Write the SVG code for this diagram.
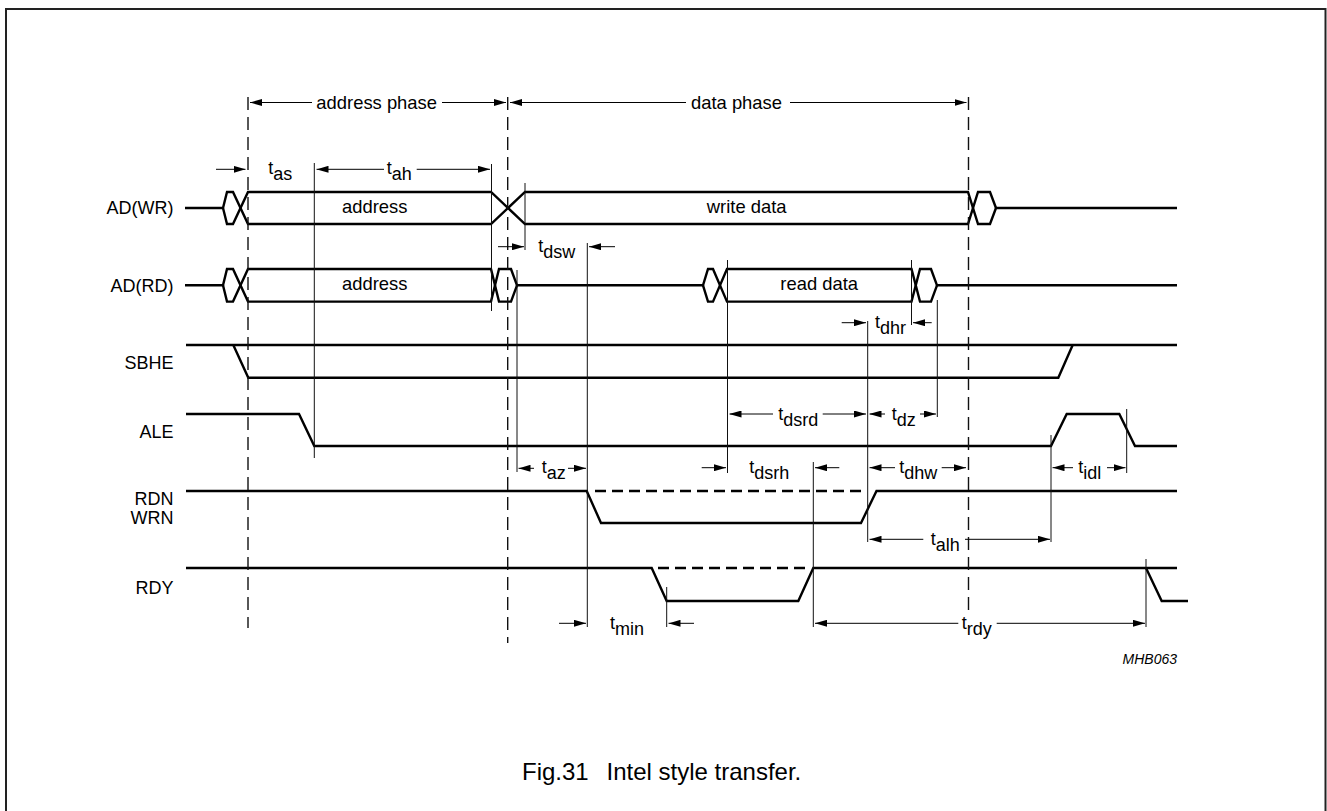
<svg xmlns="http://www.w3.org/2000/svg" width="1327" height="811" viewBox="0 0 1327 811">
<defs>
<marker id="ah" viewBox="0 0 12 7" refX="12" refY="3.5" markerWidth="12" markerHeight="7" markerUnits="userSpaceOnUse" orient="auto">
<path d="M0,0 L12,3.5 L0,7 z" fill="#000"/>
</marker>
<style>
.sig{fill:none;stroke:#000;stroke-width:2.4;stroke-linejoin:miter}
.sigd{fill:none;stroke:#000;stroke-width:2.4;stroke-dasharray:11 6}
.vl{stroke:#111;stroke-width:1;fill:none}
.dl{stroke:#111;stroke-width:1.4;stroke-dasharray:13 7;fill:none}
.ar{stroke:#000;stroke-width:1;fill:none;marker-end:url(#ah)}
text{font-family:"Liberation Sans",Arial,Helvetica,sans-serif;fill:#000}
.lb{font-size:18px;text-anchor:end}
.tx{font-size:18.4px;text-anchor:middle}
.tm{font-size:18px}
</style>
</defs>
<rect x="0" y="0" width="1327" height="811" fill="#fff"/>
<rect x="6" y="9" width="1319.5" height="805" fill="none" stroke="#222" stroke-width="2"/>

<g id="labels">
<text class="lb" x="173.5" y="214.3">AD(WR)</text>
<text class="lb" x="173.5" y="291.7">AD(RD)</text>
<text class="lb" x="173.5" y="369">SBHE</text>
<text class="lb" x="173.5" y="437.7">ALE</text>
<text class="lb" x="173.5" y="504.5">RDN</text>
<text class="lb" x="173.5" y="523.5">WRN</text>
<text class="lb" x="173.5" y="593.5">RDY</text>
</g>

<g id="sig-adwr">
<path class="sig" d="M185,208 L223,208 L227,192 L233,192 L248,224 L491,224 L525,192 L968,192 L978,224 L990,224 L996,208 L1177,208"/>
<path class="sig" d="M223,208 L227,224 L233,224 L248,192 L491,192 L525,224 L968,224 L978,192 L990,192 L996,208"/>
<text class="tx" x="374.7" y="213.3">address</text>
<text class="tx" x="746.7" y="213.3">write data</text>
</g>

<g id="sig-adrd">
<path class="sig" d="M185,285.3 L223,285.3 L227,269 L233,269 L248,301.6 L491,301.6 L499,269 L511,269 L517,285.3 L703,285.3 L708,269 L713,269 L727,301.6 L911.5,301.6 L920,269 L931,269 L937,285.3 L1177,285.3"/>
<path class="sig" d="M223,285.3 L227,301.6 L233,301.6 L248,269 L491,269 L499,301.6 L511,301.6 L517,285.3"/>
<path class="sig" d="M703,285.3 L708,301.6 L713,301.6 L727,269 L911.5,269 L920,301.6 L931,301.6 L937,285.3"/>
<text class="tx" x="374.7" y="290.3">address</text>
<text class="tx" x="819.2" y="290.3">read data</text>
</g>

<g id="sig-sbhe">
<path class="sig" d="M186,345 L1177,345"/>
<path class="sig" d="M233.3,345 L248.3,377.7 L1058.3,377.7 L1072.7,345"/>
</g>

<g id="sig-ale">
<path class="sig" d="M186,414 L299,414 L314.3,446 L1051,446 L1066.7,414 L1119.3,414 L1135,446 L1177,446"/>
</g>

<g id="sig-rdn">
<path class="sig" d="M186,491 L586.7,491 L601,523 L861,523 L876.5,491 L1177,491"/>
<path class="sigd" d="M595,491 L862,491"/>
</g>

<g id="sig-rdy">
<path class="sig" d="M186,568 L651.7,568 L666.7,601 L798.3,601 L813.3,568 L1177,568"/>
<path class="sig" d="M1146,568 L1161.7,601 L1188,601"/>
<path class="sigd" d="M658,568 L807,568"/>
</g>

<g id="connectors">
<path class="dl" d="M248,97 V628 M507.7,97 V643 M968.5,97 V612"/>
<path class="vl" d="M314.3,163 V458 M491.5,164 V311 M517,270 V472 M525,183 V250 M587.3,243 V627 M666.7,587 V627 M727.5,260 V473 M813.3,462 V627 M867.7,321 V542 M911.5,260 V325 M937.3,300 V417 M1051,435 V542 M1126.7,409 V473 M1146,559 V627"/>
<line class="ar" x1="312" y1="102.5" x2="250" y2="102.5"/>
<line class="ar" x1="442" y1="102.5" x2="506" y2="102.5"/>
<line class="ar" x1="686" y1="102.5" x2="510" y2="102.5"/>
<line class="ar" x1="790" y1="102.5" x2="966.5" y2="102.5"/>
<line class="ar" x1="216" y1="169.3" x2="245.5" y2="169.3"/>
<line class="ar" x1="384" y1="169.3" x2="316.5" y2="169.3"/>
<line class="ar" x1="416.7" y1="169.3" x2="490" y2="169.3"/>
<line class="ar" x1="498" y1="246.7" x2="524" y2="246.7"/>
<line class="ar" x1="615" y1="246.7" x2="589" y2="246.7"/>
<line class="ar" x1="841.7" y1="322.7" x2="866" y2="322.7"/>
<line class="ar" x1="931.7" y1="322.7" x2="913" y2="322.7"/>
<line class="ar" x1="773" y1="414" x2="729.5" y2="414"/>
<line class="ar" x1="822.7" y1="414" x2="866" y2="414"/>
<line class="ar" x1="885" y1="414" x2="869.5" y2="414"/>
<line class="ar" x1="920" y1="414" x2="936" y2="414"/>
<line class="ar" x1="534" y1="468.3" x2="518.5" y2="468.3"/>
<line class="ar" x1="568" y1="468.3" x2="586" y2="468.3"/>
<line class="ar" x1="701.7" y1="467.7" x2="726" y2="467.7"/>
<line class="ar" x1="839.3" y1="467.7" x2="815" y2="467.7"/>
<line class="ar" x1="895" y1="467.7" x2="869.5" y2="467.7"/>
<line class="ar" x1="941.7" y1="467.7" x2="966" y2="467.7"/>
<line class="ar" x1="1073" y1="467.7" x2="1052.5" y2="467.7"/>
<line class="ar" x1="1107" y1="467.7" x2="1125.5" y2="467.7"/>
<line class="ar" x1="923.3" y1="539.3" x2="869.5" y2="539.3"/>
<line class="ar" x1="965" y1="539.3" x2="1050" y2="539.3"/>
<line class="ar" x1="559" y1="623.3" x2="586" y2="623.3"/>
<line class="ar" x1="694" y1="623.3" x2="668.5" y2="623.3"/>
<line class="ar" x1="958.3" y1="623.3" x2="815" y2="623.3"/>
<line class="ar" x1="996.7" y1="623.3" x2="1145" y2="623.3"/>
</g>

<g id="timing-labels" class="tm">
<text class="tx" x="376.7" y="108.5">address phase</text>
<text class="tx" x="736.5" y="108.5">data phase</text>
<text class="tm" x="268.3" y="174.3">t<tspan dy="6">as</tspan></text>
<text class="tm" x="386.7" y="174.3">t<tspan dy="6">ah</tspan></text>
<text class="tm" x="538.3" y="251.7">t<tspan dy="6">dsw</tspan></text>
<text class="tm" x="875" y="327.7">t<tspan dy="6">dhr</tspan></text>
<text class="tm" x="778.3" y="419.5">t<tspan dy="6">dsrd</tspan></text>
<text class="tm" x="891.7" y="419.5">t<tspan dy="6">dz</tspan></text>
<text class="tm" x="541.7" y="473.3">t<tspan dy="6">az</tspan></text>
<text class="tm" x="749.3" y="473">t<tspan dy="6">dsrh</tspan></text>
<text class="tm" x="899.3" y="473">t<tspan dy="6">dhw</tspan></text>
<text class="tm" x="1078.3" y="473">t<tspan dy="6">idl</tspan></text>
<text class="tm" x="930.7" y="544.5">t<tspan dy="6">alh</tspan></text>
<text class="tm" x="610" y="628.5">t<tspan dy="6">min</tspan></text>
<text class="tm" x="961.7" y="628.5">t<tspan dy="6">rdy</tspan></text>
</g>

<g id="footer">
<text x="1177" y="664.3" style="font-size:14px;font-style:italic;text-anchor:end">MHB063</text>
<text x="522" y="780" style="font-size:24px">Fig.31</text>
<text x="606.5" y="780" style="font-size:24px">Intel style transfer.</text>
</g>
</svg>
